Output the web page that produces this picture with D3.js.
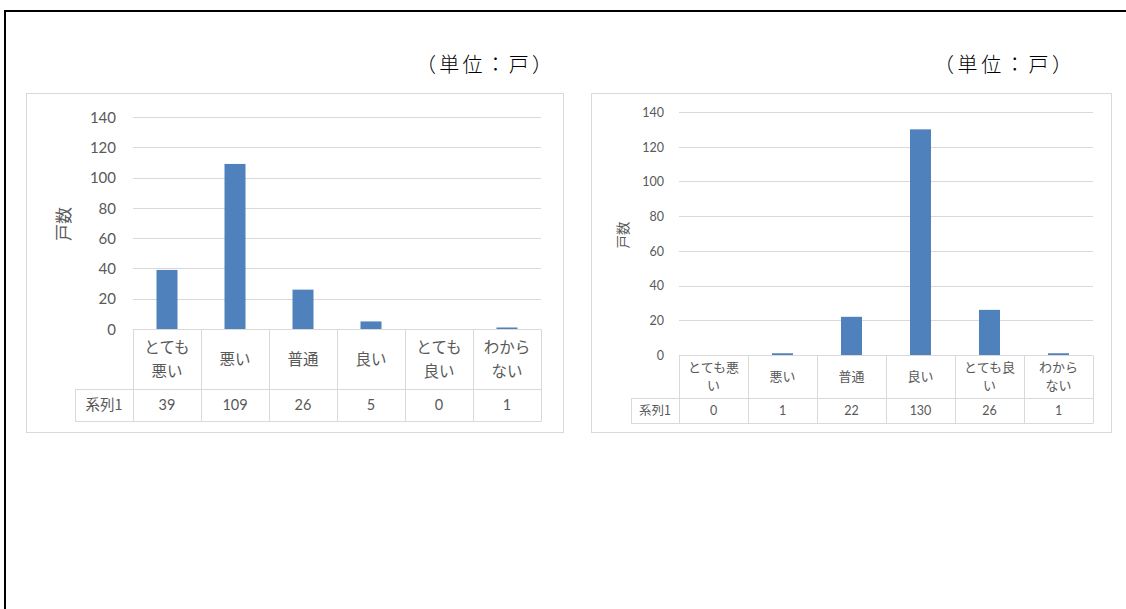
<!DOCTYPE html>
<html>
<head>
<meta charset="utf-8">
<script src="https://cdn.jsdelivr.net/npm/d3@7"></script>
<style>
  html, body { margin: 0; padding: 0; background: #fff; }
  svg { display: block; }
</style>
</head>
<body>
<svg id="chart" width="1126" height="609"></svg>
<script>
// ---- Data ----
const categories = ["とても悪い", "悪い", "普通", "良い", "とても良い", "わからない"];
const leftLabels = [["とても", "悪い"], ["悪い"], ["普通"], ["良い"], ["とても", "良い"], ["わから", "ない"]];
const rightLabels = [["とても悪", "い"], ["悪い"], ["普通"], ["良い"], ["とても良", "い"], ["わから", "ない"]];
const leftValues = [39, 109, 26, 5, 0, 1];
const rightValues = [0, 1, 22, 130, 26, 1];
const yTicks = [0, 20, 40, 60, 80, 100, 120, 140];
const seriesName = "系列1";
const axisTitle = "戸数";
const unitText = "（単位：戸）";

const svg = d3.select("#chart");
const GRID = "#d9d9d9", TXT = "#595959", BAR = "#4f81bd";
const FONT = "'Noto Sans CJK JP', 'Noto Sans', sans-serif";
const NUMFONT = "Lato, 'Noto Sans', sans-serif";

// Outer frame
svg.append("line").attr("x1", 5).attr("x2", 1126).attr("y1", 11).attr("y2", 11)
  .attr("stroke", "#000").attr("stroke-width", 2);
svg.append("line").attr("x1", 5).attr("x2", 5).attr("y1", 10).attr("y2", 609)
  .attr("stroke", "#000").attr("stroke-width", 2);

function drawChart(cfg, labels, values) {
  const g = svg.append("g");
  // unit text
  g.append("text").attr("x", cfg.unitX).attr("y", cfg.unitY)
    .attr("textLength", cfg.unitLen).attr("lengthAdjust", "spacing")
    .attr("font-family", "'Noto Sans CJK JP', serif").attr("font-weight", 300)
    .attr("font-size", 20).attr("fill", "#000").text(unitText);
  // chart box
  g.append("rect").attr("x", cfg.box[0] + 0.5).attr("y", cfg.box[1] + 0.5)
    .attr("width", cfg.box[2] - cfg.box[0]).attr("height", cfg.box[3] - cfg.box[1])
    .attr("fill", "#fff").attr("stroke", GRID);

  const x = d3.scaleBand().domain(categories).range([cfg.x0, cfg.x1]).padding(0);
  const y = d3.scaleLinear().domain([0, 140]).range([cfg.y0, cfg.yTop]);

  // gridlines
  g.append("g").selectAll("line").data(yTicks.filter(t => t > 0)).join("line")
    .attr("x1", cfg.x0).attr("x2", cfg.x1)
    .attr("y1", d => Math.round(y(d)) + 0.5).attr("y2", d => Math.round(y(d)) + 0.5)
    .attr("stroke", GRID).attr("stroke-width", 1);

  // y tick labels via axis
  const ax = g.append("g").attr("transform", `translate(${cfg.tickX},0)`)
    .call(d3.axisLeft(y).tickValues(yTicks).tickSize(0).tickPadding(0));
  ax.select(".domain").remove();
  ax.selectAll("text").attr("font-family", NUMFONT).attr("font-size", cfg.tickFont)
    .attr("fill", TXT).attr("dy", "0.35em");

  // axis title
  g.append("text").attr("transform", `translate(${cfg.titleX},${cfg.titleY}) rotate(-90)`)
    .attr("text-anchor", "middle").attr("dominant-baseline", "central")
    .attr("font-family", FONT).attr("font-size", cfg.titleFont).attr("fill", TXT).text(axisTitle);

  // bars
  const bw = cfg.barW;
  g.append("g").selectAll("rect").data(values).join("rect")
    .attr("x", (d, i) => x(categories[i]) + x.bandwidth() / 2 - bw / 2)
    .attr("y", d => y(d))
    .attr("width", bw)
    .attr("height", d => cfg.y0 - y(d))
    .attr("fill", BAR);

  // data table
  const tb = g.append("g").attr("stroke", GRID).attr("stroke-width", 1).attr("fill", "none");
  const yA = cfg.y0 + 0.5, yB = cfg.rowB + 0.5, yC = cfg.rowC + 0.5;
  tb.append("line").attr("x1", cfg.x0).attr("x2", cfg.x1).attr("y1", yA).attr("y2", yA);
  tb.append("line").attr("x1", cfg.serX).attr("x2", cfg.x1).attr("y1", yB).attr("y2", yB);
  tb.append("line").attr("x1", cfg.serX).attr("x2", cfg.x1).attr("y1", yC).attr("y2", yC);
  const bounds = categories.map(c => x(c)).concat([cfg.x1]);
  tb.selectAll("line.v").data(bounds).join("line").attr("class", "v")
    .attr("x1", d => Math.round(d) + 0.5).attr("x2", d => Math.round(d) + 0.5)
    .attr("y1", yA).attr("y2", yC);
  tb.append("line").attr("x1", cfg.serX + 0.5).attr("x2", cfg.serX + 0.5).attr("y1", yB).attr("y2", yC);

  // category labels
  const lh = cfg.catLine;
  const catMid = (cfg.y0 + cfg.rowB) / 2;
  labels.forEach((lines, i) => {
    const cx = x(categories[i]) + x.bandwidth() / 2;
    const t = g.append("text").attr("text-anchor", "middle")
      .attr("font-family", FONT).attr("font-size", cfg.catFont).attr("fill", TXT);
    const n = lines.length;
    lines.forEach((ln, k) => {
      t.append("tspan").attr("x", cx)
        .attr("y", catMid + (k - (n - 1) / 2) * lh)
        .attr("dy", "0.36em").text(ln);
    });
  });

  // values row
  const valMid = (cfg.rowB + cfg.rowC) / 2;
  g.append("g").selectAll("text").data(values).join("text")
    .attr("x", (d, i) => x(categories[i]) + x.bandwidth() / 2)
    .attr("y", valMid).attr("dy", "0.36em").attr("text-anchor", "middle")
    .attr("font-family", NUMFONT).attr("font-size", cfg.valFont).attr("fill", TXT)
    .text(d => d);
  g.append("text").attr("x", (cfg.serX + cfg.x0) / 2).attr("y", valMid).attr("dy", "0.36em")
    .attr("text-anchor", "middle").attr("font-family", FONT).attr("font-size", cfg.valFont)
    .attr("fill", TXT).text(seriesName);
}

drawChart({
  unitX: 416, unitY: 72, unitLen: 136,
  box: [26, 93, 563, 432],
  x0: 133, x1: 541, y0: 329, yTop: 117,
  tickX: 116, tickFont: 15,
  titleX: 62, titleY: 224, titleFont: 17,
  barW: 21,
  rowB: 389, rowC: 421, serX: 75,
  catFont: 15.5, catLine: 24, valFont: 14.5
}, leftLabels, leftValues);

drawChart({
  unitX: 934, unitY: 72, unitLen: 138,
  box: [591, 93, 1111, 432],
  x0: 679, x1: 1093, y0: 355, yTop: 112,
  tickX: 664, tickFont: 12.5,
  titleX: 622, titleY: 235, titleFont: 13.5,
  barW: 21,
  rowB: 398, rowC: 423, serX: 631,
  catFont: 13, catLine: 18, valFont: 12.5
}, rightLabels, rightValues);
</script>
</body>
</html>
